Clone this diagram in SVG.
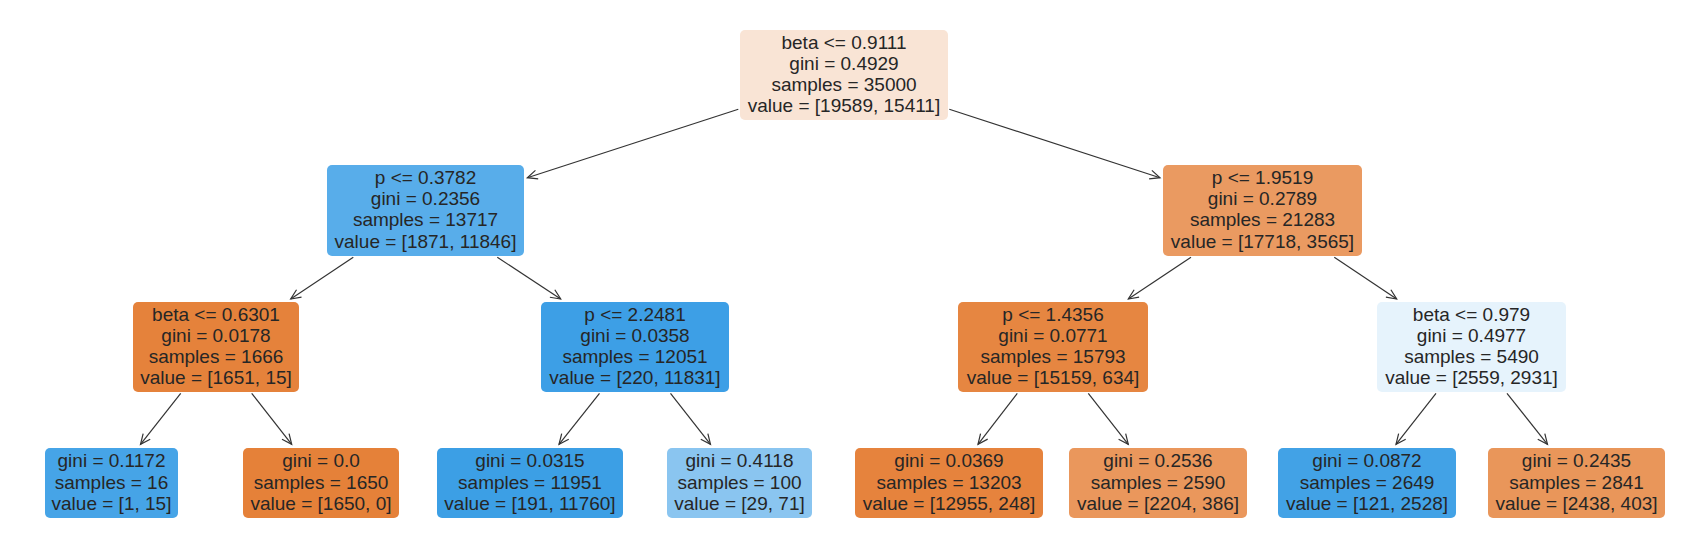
<svg xmlns="http://www.w3.org/2000/svg" width="1688" height="558" viewBox="0 0 1688 558">
<style>
  text { font-family: "Liberation Sans", Arial, sans-serif; font-size: 19px; fill: #262626; text-anchor: middle; }
  .edge { stroke: #333333; stroke-width: 1.2; fill: none; marker-end: url(#arr); }
</style>
<defs>
  <marker id="arr" markerUnits="userSpaceOnUse" viewBox="-12 -6 14 12" refX="0" refY="0" markerWidth="14" markerHeight="12" orient="auto">
    <path d="M-10,-4.5 L0,0 L-10,4.5" fill="none" stroke="#333333" stroke-width="1.2"/>
  </marker>
</defs>
<rect width="1688" height="558" fill="#ffffff"/>
<g id="connectors">
  <line class="edge" x1="738.3" y1="109.3" x2="527.3" y2="177.7"/>
  <line class="edge" x1="949.3" y1="109.3" x2="1160" y2="177.7"/>
  <line class="edge" x1="353.3" y1="257.3" x2="290.7" y2="299"/>
  <line class="edge" x1="497.3" y1="257.3" x2="560.7" y2="299"/>
  <line class="edge" x1="1191" y1="257.3" x2="1128.3" y2="299"/>
  <line class="edge" x1="1334.3" y1="257.3" x2="1396.7" y2="299"/>
  <line class="edge" x1="180.7" y1="393.3" x2="140.5" y2="444.3"/>
  <line class="edge" x1="251.7" y1="393.3" x2="291.7" y2="444.3"/>
  <line class="edge" x1="599.5" y1="393.3" x2="559" y2="444.3"/>
  <line class="edge" x1="670.5" y1="393.3" x2="710.5" y2="444.3"/>
  <line class="edge" x1="1017.3" y1="393.3" x2="978" y2="444.3"/>
  <line class="edge" x1="1088.3" y1="393.3" x2="1128.3" y2="444.3"/>
  <line class="edge" x1="1436" y1="393.3" x2="1396" y2="444.3"/>
  <line class="edge" x1="1507" y1="393.3" x2="1547.5" y2="444.3"/>
</g>
<g id="n0">
  <rect x="740" y="30" width="208" height="90" rx="5" fill="#f9e4d5"/>
  <text x="844" y="48.5">beta &lt;= 0.9111</text>
  <text x="844" y="69.7">gini = 0.4929</text>
  <text x="844" y="90.9">samples = 35000</text>
  <text x="844" y="112.1">value = [19589, 15411]</text>
</g>
<g id="n1">
  <rect x="327" y="165" width="197" height="91" rx="5" fill="#58adea"/>
  <text x="425.5" y="184">p &lt;= 0.3782</text>
  <text x="425.5" y="205.2">gini = 0.2356</text>
  <text x="425.5" y="226.4">samples = 13717</text>
  <text x="425.5" y="247.6">value = [1871, 11846]</text>
</g>
<g id="n8">
  <rect x="1163" y="165" width="199" height="91" rx="5" fill="#ea9a61"/>
  <text x="1262.5" y="184">p &lt;= 1.9519</text>
  <text x="1262.5" y="205.2">gini = 0.2789</text>
  <text x="1262.5" y="226.4">samples = 21283</text>
  <text x="1262.5" y="247.6">value = [17718, 3565]</text>
</g>
<g id="n2">
  <rect x="133" y="302" width="166" height="90" rx="5" fill="#e5823b"/>
  <text x="216" y="320.5">beta &lt;= 0.6301</text>
  <text x="216" y="341.7">gini = 0.0178</text>
  <text x="216" y="362.9">samples = 1666</text>
  <text x="216" y="384.1">value = [1651, 15]</text>
</g>
<g id="n5">
  <rect x="541" y="302" width="188" height="90" rx="5" fill="#3d9fe6"/>
  <text x="635" y="320.5">p &lt;= 2.2481</text>
  <text x="635" y="341.7">gini = 0.0358</text>
  <text x="635" y="362.9">samples = 12051</text>
  <text x="635" y="384.1">value = [220, 11831]</text>
</g>
<g id="n9">
  <rect x="958" y="302" width="190" height="90" rx="5" fill="#e68641"/>
  <text x="1053" y="320.5">p &lt;= 1.4356</text>
  <text x="1053" y="341.7">gini = 0.0771</text>
  <text x="1053" y="362.9">samples = 15793</text>
  <text x="1053" y="384.1">value = [15159, 634]</text>
</g>
<g id="n12">
  <rect x="1377" y="302" width="189" height="90" rx="5" fill="#e6f3fc"/>
  <text x="1471.5" y="320.5">beta &lt;= 0.979</text>
  <text x="1471.5" y="341.7">gini = 0.4977</text>
  <text x="1471.5" y="362.9">samples = 5490</text>
  <text x="1471.5" y="384.1">value = [2559, 2931]</text>
</g>
<g id="n3">
  <rect x="45" y="448" width="133" height="70" rx="5" fill="#46a4e7"/>
  <text x="111.5" y="467.3">gini = 0.1172</text>
  <text x="111.5" y="488.5">samples = 16</text>
  <text x="111.5" y="509.7">value = [1, 15]</text>
</g>
<g id="n4">
  <rect x="243" y="448" width="156" height="70" rx="5" fill="#e58139"/>
  <text x="321" y="467.3">gini = 0.0</text>
  <text x="321" y="488.5">samples = 1650</text>
  <text x="321" y="509.7">value = [1650, 0]</text>
</g>
<g id="n6">
  <rect x="437" y="448" width="186" height="70" rx="5" fill="#3c9fe5"/>
  <text x="530" y="467.3">gini = 0.0315</text>
  <text x="530" y="488.5">samples = 11951</text>
  <text x="530" y="509.7">value = [191, 11760]</text>
</g>
<g id="n7">
  <rect x="667" y="448" width="145" height="70" rx="5" fill="#8ac5f0"/>
  <text x="739.5" y="467.3">gini = 0.4118</text>
  <text x="739.5" y="488.5">samples = 100</text>
  <text x="739.5" y="509.7">value = [29, 71]</text>
</g>
<g id="n10">
  <rect x="855" y="448" width="188" height="70" rx="5" fill="#e6833d"/>
  <text x="949" y="467.3">gini = 0.0369</text>
  <text x="949" y="488.5">samples = 13203</text>
  <text x="949" y="509.7">value = [12955, 248]</text>
</g>
<g id="n11">
  <rect x="1069" y="448" width="178" height="70" rx="5" fill="#ea975c"/>
  <text x="1158" y="467.3">gini = 0.2536</text>
  <text x="1158" y="488.5">samples = 2590</text>
  <text x="1158" y="509.7">value = [2204, 386]</text>
</g>
<g id="n13">
  <rect x="1278" y="448" width="178" height="70" rx="5" fill="#42a2e6"/>
  <text x="1367" y="467.3">gini = 0.0872</text>
  <text x="1367" y="488.5">samples = 2649</text>
  <text x="1367" y="509.7">value = [121, 2528]</text>
</g>
<g id="n14">
  <rect x="1488" y="448" width="177" height="70" rx="5" fill="#e9965a"/>
  <text x="1576.5" y="467.3">gini = 0.2435</text>
  <text x="1576.5" y="488.5">samples = 2841</text>
  <text x="1576.5" y="509.7">value = [2438, 403]</text>
</g>
</svg>
